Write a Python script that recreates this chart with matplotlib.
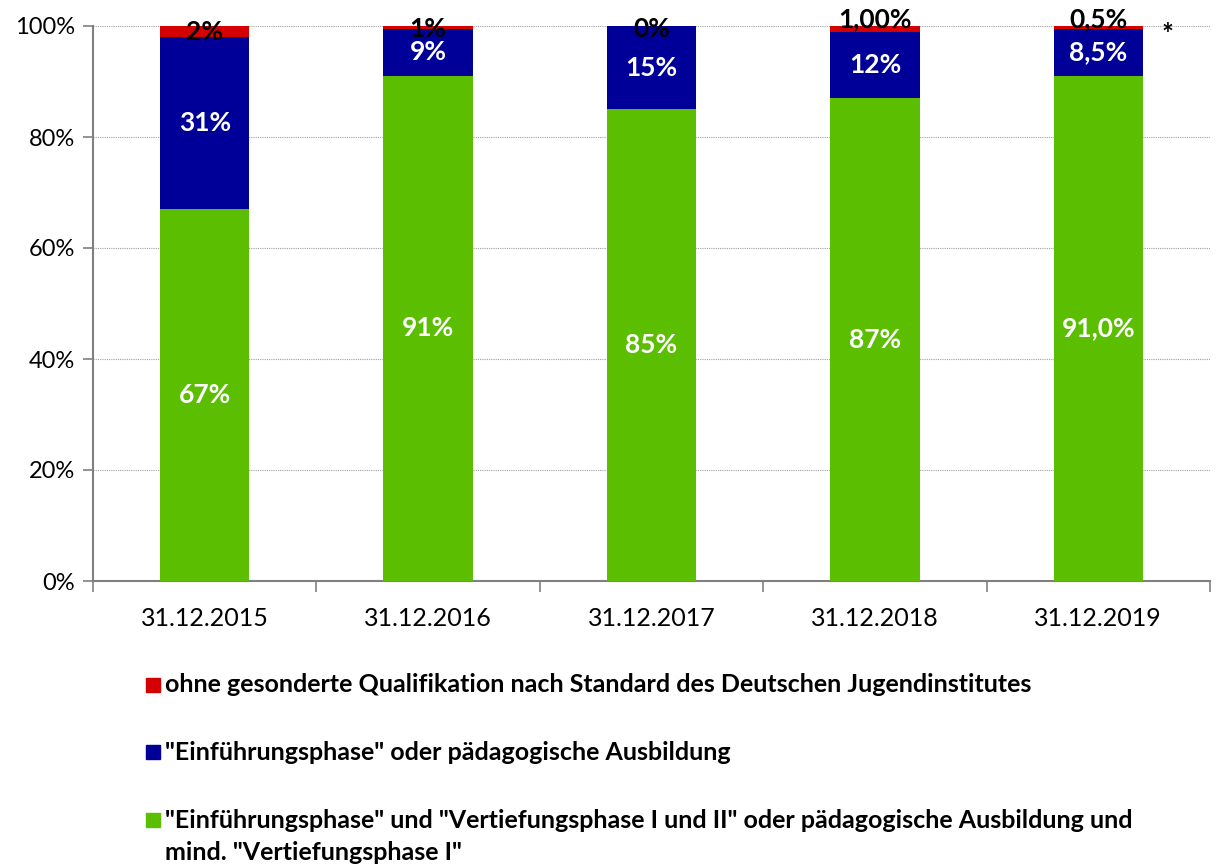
import matplotlib
matplotlib.use('Agg')
import matplotlib.pyplot as plt
from matplotlib.patches import Rectangle
import numpy as np

plt.rcParams['font.family'] = ['Lato', 'DejaVu Sans']

categories = ['31.12.2015', '31.12.2016', '31.12.2017', '31.12.2018', '31.12.2019']
green_vals = [67, 91, 85, 87, 91]
blue_vals = [31, 8.5, 15, 12, 8.5]
red_vals = [2, 0.5, 0, 1, 0.5]
green_labels = ['67%', '91%', '85%', '87%', '91,0%']
blue_labels = ['31%', '9%', '15%', '12%', '8,5%']
red_labels = ['2%', '1%', '0%', '1,00%', '0,5%']
legend_labels = ['ohne gesonderte Qualifikation nach Standard des Deutschen Jugendinstitutes',
                 '"Einführungsphase" oder pädagogische Ausbildung',
                 '"Einführungsphase" und "Vertiefungsphase I und II" oder pädagogische Ausbildung und\nmind. "Vertiefungsphase I"']

c_green = '#5BBE00'
c_blue = '#000099'
c_red = '#D50000'

fig = plt.figure(figsize=(12.16, 8.66), dpi=100)
ax = fig.add_axes([93/1216, 1-581/866, 1117/1216, 555/866])

x = np.arange(len(categories))
g = np.array(green_vals, dtype=float)
b = np.array(blue_vals, dtype=float)
r = np.array(red_vals, dtype=float)

ax.bar(x, g, width=0.4, color=c_green, zorder=3)
ax.bar(x, b, width=0.4, bottom=g, color=c_blue, zorder=3)
ax.bar(x, r, width=0.4, bottom=g + b, color=c_red, zorder=3)

red_offsets = [0, 0, 0, 7, 7]  # points, some labels sit a bit higher
for i in range(len(x)):
    ax.text(x[i], g[i] / 2, green_labels[i], ha='center', va='center',
            color='white', fontsize=19, fontweight='bold', zorder=4)
    ax.text(x[i], g[i] + b[i] / 2, blue_labels[i], ha='center', va='center',
            color='white', fontsize=19, fontweight='bold', zorder=4)
    ax.annotate(red_labels[i], (x[i], 100 - max(r[i], 1) / 2), xytext=(0, red_offsets[i]),
                textcoords='offset points', ha='center', va='center',
                color='black', fontsize=19, fontweight='bold', zorder=5)

ax.text(4.31, 98.4, '*', ha='center', va='center', fontsize=20, fontweight='bold', color='black')

ax.set_xlim(-0.5, 4.5)
ax.set_ylim(0, 100)
ax.set_yticks([0, 20, 40, 60, 80, 100])
ax.set_yticklabels(['0%', '20%', '40%', '60%', '80%', '100%'], fontsize=17)
ax.yaxis.grid(True, linestyle=(0, (1, 1)), color='#A0A0A0', linewidth=0.8, zorder=0)

ax.set_xticks(x)
ax.set_xticklabels(categories, fontsize=18)
ax.set_xticks(np.arange(-0.5, 5, 1), minor=True)
ax.tick_params(axis='x', which='major', length=0, pad=19)
ax.tick_params(axis='x', which='minor', length=8, color='#808080', width=1.2)
ax.tick_params(axis='y', length=7, color='#808080', width=1.2, pad=6)

for s in ['top', 'right']:
    ax.spines[s].set_visible(False)
for s in ['left', 'bottom']:
    ax.spines[s].set_color('#808080')
    ax.spines[s].set_linewidth(1.5)

# legend drawn by hand so the green square sits next to the first line
leg_colors = [c_red, c_blue, c_green]
leg_y = [685, 752, 820]
for col, lab, yy in zip(leg_colors, legend_labels, leg_y):
    fig.add_artist(Rectangle((146/1216, 1 - (yy + 7)/866), 14/1216, 14/866,
                             transform=fig.transFigure, color=col))
    fig.text(165/1216, 1 - (yy - 11)/866 if '\n' in lab else 1 - yy/866, lab, ha='left',
             va='top' if '\n' in lab else 'center',
             fontsize=18, fontweight='bold', linespacing=1.5)

fig.savefig('out.png', dpi=100)
